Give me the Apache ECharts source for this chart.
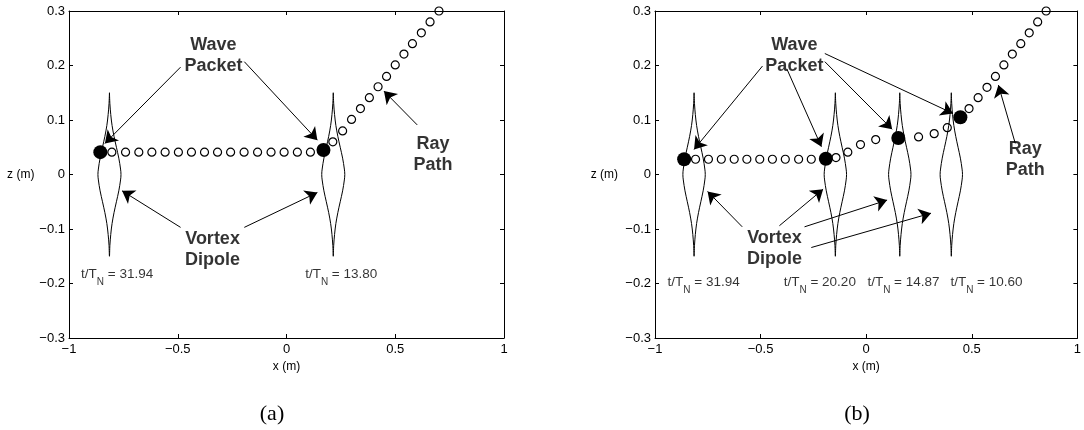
<!DOCTYPE html>
<html><head><meta charset="utf-8">
<script src="https://cdn.jsdelivr.net/npm/echarts@6/dist/echarts.min.js"></script>
<style>html,body{margin:0;padding:0;background:#fff}#c{width:1084px;height:430px}</style>
</head><body><div id="c"></div>
<script>
// ---------- data ----------
// axis ticks
const xTicks = [-1, -0.5, 0, 0.5, 1];
const zTicks = [-0.3, -0.2, -0.1, 0, 0.1, 0.2, 0.3];

// vortex dipole outline: half width (m) as a function of z (m)
const dipoleZ = [0.15, 0.13, 0.11, 0.09, 0.07, 0.05, 0.03, 0.01, 0, -0.01, -0.03, -0.05, -0.07, -0.09, -0.11, -0.13, -0.15];
const dipoleHalfWidth = [0, 0.002, 0.006, 0.012, 0.021, 0.032, 0.043, 0.051, 0.053, 0.051, 0.043, 0.032, 0.021, 0.012, 0.006, 0.002, 0];

// panel (a)
const aDipoleX = [-0.814, 0.215];
const aRayX = [-0.803, -0.740, -0.679, -0.619, -0.558, -0.497, -0.437, -0.377, -0.317, -0.257, -0.195, -0.133, -0.071, -0.011, 0.050, 0.110,
               0.213, 0.258, 0.299, 0.340, 0.381, 0.421, 0.460, 0.500, 0.540, 0.579, 0.620, 0.660, 0.701];
const aRayZ = [0.041, 0.041, 0.041, 0.041, 0.041, 0.041, 0.041, 0.041, 0.041, 0.041, 0.041, 0.041, 0.041, 0.041, 0.041, 0.041,
               0.060, 0.080, 0.101, 0.121, 0.141, 0.161, 0.180, 0.201, 0.221, 0.240, 0.260, 0.280, 0.300];
const aPacketX = [-0.856, 0.170];
const aPacketZ = [0.041, 0.045];
const aTimes = ['31.94', '13.80'];
const aTimeX = [-0.942, 0.088];
const aTimeZ = [-0.184, -0.184];

// panel (b)
const bDipoleX = [-0.815, -0.146, 0.159, 0.403];
const bRayX = [-0.808, -0.747, -0.686, -0.625, -0.565, -0.504, -0.444, -0.383, -0.320, -0.260,
               -0.143, -0.087, -0.027, 0.045, 0.248, 0.322, 0.384,
               0.487, 0.530, 0.572, 0.612, 0.652, 0.692, 0.732, 0.772, 0.812, 0.852];
const bRayZ = [0.028, 0.028, 0.028, 0.028, 0.028, 0.028, 0.028, 0.028, 0.028, 0.028,
               0.031, 0.041, 0.055, 0.064, 0.069, 0.075, 0.086,
               0.121, 0.141, 0.160, 0.180, 0.201, 0.221, 0.240, 0.260, 0.280, 0.300];
const bPacketX = [-0.862, -0.191, 0.152, 0.446];
const bPacketZ = [0.028, 0.029, 0.067, 0.105];
const bTimes = ['31.94', '20.20', '14.87', '10.60'];
const bTimeX = [-0.938, -0.388, 0.008, 0.401];
const bTimeZ = [-0.199, -0.199, -0.199, -0.199];

// annotation arrows [x0, z0, x1(tip), z1(tip)]
const aArrows = [
  [-0.487, 0.197, -0.835, 0.057],
  [-0.194, 0.207, 0.142, 0.063],
  [0.601, 0.091, 0.448, 0.153],
  [-0.487, -0.097, -0.756, -0.030],
  [-0.194, -0.097, 0.142, -0.033]
];
const bArrows = [
  [-0.491, 0.199, -0.815, 0.046],
  [-0.376, 0.194, -0.212, 0.051],
  [-0.196, 0.207, 0.123, 0.083],
  [-0.196, 0.222, 0.411, 0.112],
  [0.706, 0.057, 0.626, 0.164],
  [-0.587, -0.096, -0.751, -0.031],
  [-0.411, -0.094, -0.204, -0.027],
  [-0.292, -0.096, 0.099, -0.047],
  [-0.260, -0.134, 0.307, -0.071]
];

// annotation texts [text, x, z]
const aNotes = [['Wave\nPacket', -0.336, 0.219], ['Vortex\nDipole', -0.340, -0.137], ['Ray\nPath', 0.674, 0.036]];
const bNotes = [['Wave\nPacket', -0.340, 0.219], ['Vortex\nDipole', -0.434, -0.136], ['Ray\nPath', 0.753, 0.028]];

// ---------- chart ----------
const FONT = '"Liberation Sans", Arial, Helvetica, sans-serif';
const fmt = v => String(Math.round(v * 10) / 10).replace('-', '\u2212');

function xAx(grid, pos) {
  const bottom = pos === 'bottom';
  return {
    type: 'value', gridIndex: grid, position: pos, min: xTicks[0], max: xTicks[xTicks.length - 1], interval: 0.5,
    axisLine: { show: true, onZero: false, lineStyle: { color: '#000', width: 1, opacity: 1 } },
    axisTick: { show: true, inside: true, length: 4, lineStyle: { color: '#000', width: 1, opacity: 1 } },
    axisLabel: { show: bottom, color: '#000', fontSize: 13, fontFamily: FONT, margin: 5, formatter: fmt, showMinLabel: true, showMaxLabel: true },
    splitLine: { show: false },
    name: bottom ? 'x (m)' : '', nameLocation: 'middle', nameGap: 22,
    nameTextStyle: { color: '#000', fontSize: 12, fontFamily: FONT }
  };
}
function yAx(grid, pos, gap) {
  const left = pos === 'left';
  return {
    type: 'value', gridIndex: grid, position: pos, min: zTicks[0], max: zTicks[zTicks.length - 1], interval: 0.1,
    axisLine: { show: true, onZero: false, lineStyle: { color: '#000', width: 1, opacity: 1 } },
    axisTick: { show: true, inside: true, length: 4, lineStyle: { color: '#000', width: 1, opacity: 1 } },
    axisLabel: { show: left, color: '#000', fontSize: 13, fontFamily: FONT, margin: 4, formatter: fmt, showMinLabel: true, showMaxLabel: true },
    splitLine: { show: false },
    name: left ? 'z (m)' : '', nameLocation: 'middle', nameRotate: 0, nameGap: gap,
    nameTextStyle: { color: '#000', fontSize: 12, fontFamily: FONT }
  };
}

function dipoleSeries(cx, xi, yi) {
  const pts = [];
  for (let i = 0; i < dipoleZ.length; i++) pts.push([cx - dipoleHalfWidth[i], dipoleZ[i]]);
  for (let i = dipoleZ.length - 1; i >= 0; i--) pts.push([cx + dipoleHalfWidth[i], dipoleZ[i]]);
  return {
    type: 'line', xAxisIndex: xi, yAxisIndex: yi, data: pts, smooth: 0.35, showSymbol: false, symbol: 'none',
    lineStyle: { color: '#000', width: 1 }
  };
}
function raySeries(xs, zs, xi, yi) {
  return {
    type: 'scatter', xAxisIndex: xi, yAxisIndex: yi, data: xs.map((x, i) => [x, zs[i]]),
    symbol: 'circle', symbolSize: 8,
    itemStyle: { color: 'rgba(255,255,255,0)', borderColor: '#000', borderWidth: 1.2, opacity: 1 }
  };
}
function packetSeries(xs, zs, xi, yi) {
  return {
    type: 'scatter', xAxisIndex: xi, yAxisIndex: yi, data: xs.map((x, i) => [x, zs[i]]),
    symbol: 'circle', symbolSize: 14, itemStyle: { color: '#000', opacity: 1 }
  };
}
function arrowSeries(arrs, xi, yi) {
  return {
    type: 'lines', coordinateSystem: 'cartesian2d', xAxisIndex: xi, yAxisIndex: yi,
    data: arrs.map(a => ({ coords: [[a[0], a[1]], [a[2], a[3]]] })),
    symbol: ['none', 'arrow'], symbolSize: 12,
    lineStyle: { color: '#000', width: 1, opacity: 1, curveness: 0 }
  };
}
function noteSeries(notes, xi, yi) {
  return {
    type: 'scatter', xAxisIndex: xi, yAxisIndex: yi, symbolSize: 1, itemStyle: { color: 'rgba(255,255,255,0)' },
    data: notes.map(n => ({ value: [n[1], n[2]], name: n[0] })),
    label: { show: true, position: 'inside', formatter: p => p.name, color: '#000', fontSize: 18, fontWeight: 'bold',
             fontFamily: FONT, lineHeight: 21, align: 'center', verticalAlign: 'middle', textBorderWidth: 0 }
  };
}
function timeSeries(times, xs, zs, xi, yi) {
  return {
    type: 'scatter', xAxisIndex: xi, yAxisIndex: yi, symbolSize: 1, itemStyle: { color: 'rgba(255,255,255,0)' },
    data: times.map((t, i) => ({ value: [xs[i], zs[i]], name: t })),
    label: { show: true, position: [0, 0], align: 'left', verticalAlign: 'middle',
             formatter: p => '{m|t/T}{s|N}{m| = ' + p.name + '}',
             rich: {
               m: { fontSize: 13.5, fontFamily: FONT, color: '#000', lineHeight: 25, verticalAlign: 'middle' },
               s: { fontSize: 10, fontFamily: FONT, color: '#000', lineHeight: 10, verticalAlign: 'bottom' }
             } }
  };
}

const series = [];
aDipoleX.forEach(cx => series.push(dipoleSeries(cx, 0, 0)));
bDipoleX.forEach(cx => series.push(dipoleSeries(cx, 2, 2)));
series.push(raySeries(aRayX, aRayZ, 0, 0), raySeries(bRayX, bRayZ, 2, 2));
series.push(packetSeries(aPacketX, aPacketZ, 0, 0), packetSeries(bPacketX, bPacketZ, 2, 2));
series.push(arrowSeries(aArrows, 0, 0), arrowSeries(bArrows, 2, 2));
series.push(noteSeries(aNotes, 0, 0), noteSeries(bNotes, 2, 2));
series.push(timeSeries(aTimes, aTimeX, aTimeZ, 0, 0), timeSeries(bTimes, bTimeX, bTimeZ, 2, 2));

const chart = echarts.init(document.getElementById('c'));
chart.setOption({
  animation: false,
  grid: [
    { left: 69, top: 11, width: 435, height: 327 },
    { left: 655, top: 11, width: 435, height: 327 }
  ],
  xAxis: [xAx(0, 'bottom'), xAx(0, 'top'), xAx(1, 'bottom'), xAx(1, 'top')],
  yAxis: [yAx(0, 'left', 31), yAx(0, 'right', 0), yAx(1, 'left', 37), yAx(1, 'right', 0)],
  series: series,
  graphic: [
    { type: 'text', x: 272, y: 414, style: { text: '(a)', font: '22px "Liberation Serif", "Times New Roman", serif', fill: '#000', textAlign: 'center', textVerticalAlign: 'middle' } },
    { type: 'text', x: 857, y: 414, style: { text: '(b)', font: '22px "Liberation Serif", "Times New Roman", serif', fill: '#000', textAlign: 'center', textVerticalAlign: 'middle' } }
  ]
});
</script></body></html>
